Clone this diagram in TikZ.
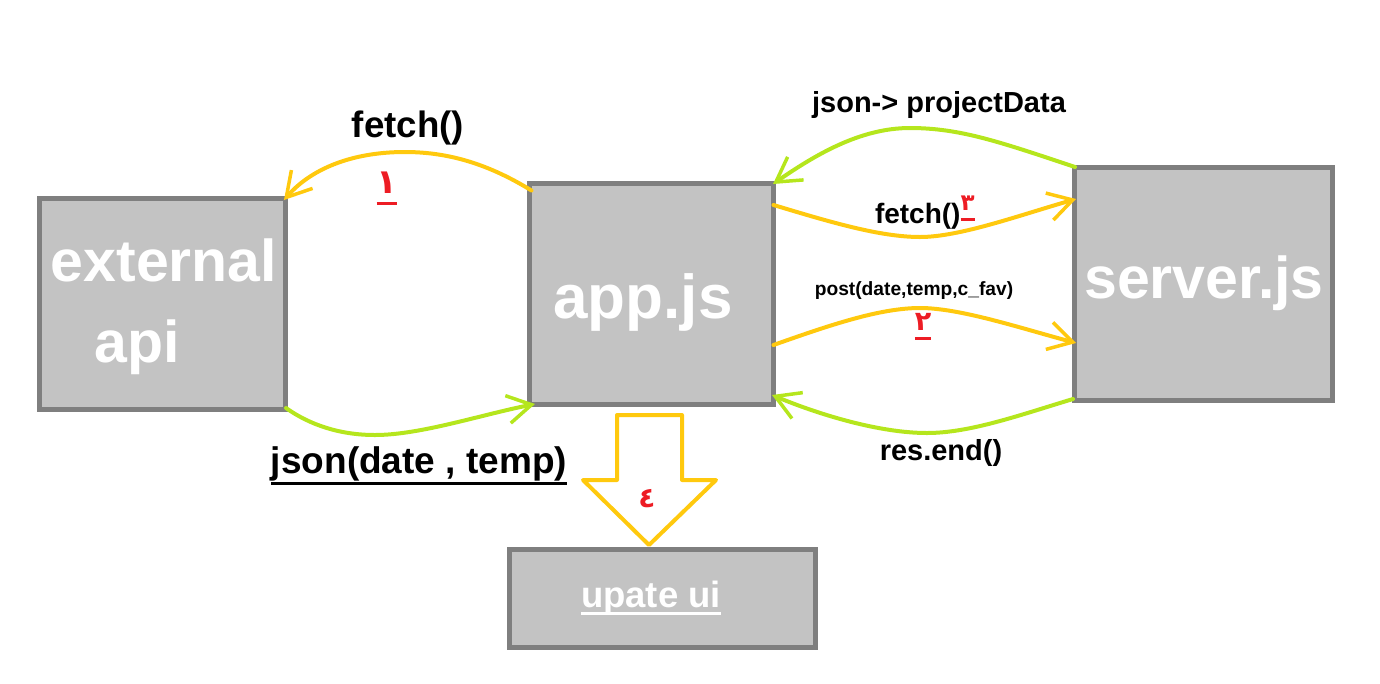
\documentclass[tikz,border=0pt]{standalone}
\usepackage{fontspec}
\setmainfont{Liberation Sans}
\newfontfamily\arfont[Script=Arabic]{DejaVu Sans}
\TeXXeTstate=1
\usetikzlibrary{arrows.meta,calc}
\definecolor{boxfill}{HTML}{C3C3C3}
\definecolor{boxline}{HTML}{7F7F7F}
\definecolor{gold}{HTML}{FFC90E}
\definecolor{lime}{HTML}{B5E61D}
\definecolor{numred}{HTML}{ED1C24}
% underline: #1 = depth of rule bottom below baseline, #2 = rule thickness
\newcommand\ulx[3]{\leavevmode\setbox0\hbox{#3}\rlap{\rule[-#1]{\wd0}{#2}}\box0}
\newcommand\fs[1]{\fontsize{#1}{#1}\selectfont\bfseries}
\newcommand\arnum[1]{{\arfont\beginR #1\endR}}
\tikzset{
  box/.style={draw=boxline, fill=boxfill, line width=5pt, inner sep=0pt, outer sep=0pt},
  lab/.style={inner sep=0pt, outer sep=0pt, anchor=base},
  wlab/.style={lab, text=white},
  num/.style={lab, text=numred},
  conn/.style={line width=4pt, line cap=round, -{Straight Barb[length=24pt,width=28pt,line width=3.5pt]}},
  yconn/.style={conn, draw=gold},
  gconn/.style={conn, draw=lime},
}
\begin{document}
\begin{tikzpicture}[x=1pt,y=-1pt]
\useasboundingbox (0,0) rectangle (1380,683);
% boxes
\node[box, minimum width=246pt, minimum height=211pt] (ext) at (162.5,304) {};
\node[box, minimum width=244pt, minimum height=221pt] (app) at (651.5,294) {};
\node[box, minimum width=258pt, minimum height=233pt] (srv) at (1203.5,284) {};
\node[box, minimum width=306pt, minimum height=98pt] (ui) at (662.5,598.5) {};
% box labels
\node[wlab, font={\fs{59}}] (extT1) at (164,281) {external};
\node[wlab, font={\fs{59}}] (extT2) at (137,362) {api};
\node[wlab, font={\fs{62}}] (appT) at (643,318) {app.js};
\node[wlab, font={\fs{59}}] (srvT) at (1204,298) {server.js};
\node[wlab, font={\fs{36.5}}] (uiT) at (651,607) {\ulx{8pt}{3pt}{upate ui}};
% connector end points
\coordinate (c1s) at ($(app.north west)+(2,7)$);
\coordinate (c1e) at ($(ext.north east)+(-1.5,1.5)$);
\coordinate (c2s) at ($(ext.south east)+(0.5,-1.5)$);
\coordinate (c2e) at ($(app.south west)+(5.5,-0.5)$);
\coordinate (c3s) at ($(srv.north west)+(0.5,-0.5)$);
\coordinate (c3e) at ($(app.north east)+(-0.5,0.5)$);
\coordinate (c4s) at ($(app.north east)+(0,21.5)$);
\coordinate (c4e) at ($(srv.north west)+(1.5,31.5)$);
\coordinate (c5s) at ($(app.north east)+(0,161.5)$);
\coordinate (c5e) at ($(srv.north west)+(1.5,175.5)$);
\coordinate (c6s) at ($(srv.south west)+(-1.5,-1.5)$);
\coordinate (c6e) at ($(app.south east)+(-1.5,-9.5)$);
% connectors
\draw[yconn] (c1s) .. controls (490,165) and (450,152) .. (405,152) .. controls (350,152) and (310,170) .. (c1e);
\draw[gconn] (c2s) .. controls (310,425) and (340,435) .. (375,435) .. controls (420,435) and (480,415) .. (c2e);
\draw[gconn] (c3s) .. controls (1000,142) and (960,128) .. (910,128) .. controls (860,128) and (815,155) .. (c3e);
\draw[yconn] (c4s) .. controls (830,222) and (880,237) .. (920,237) .. controls (960,237) and (1020,215) .. (c4e);
\draw[yconn] (c5s) .. controls (830,325) and (880,308) .. (920,308) .. controls (960,308) and (1020,328) .. (c5e);
\draw[gconn] (c6s) .. controls (1020,415) and (970,433) .. (927,433) .. controls (880,433) and (820,415) .. (c6e);
% block arrow app -> ui
\draw[gold, line width=4pt, fill=white, line join=round]
  (617,415) -- (682,415) -- (682,480) -- (716,480) -- (649,545) -- (583,480) -- (617,480) -- cycle;
% connector labels
\node[lab, font={\fs{36.7}}] (l1) at (408,137) {fetch()};
\node[lab, font={\fs{37}}] (l2) at (419,473) {\ulx{12pt}{3pt}{json(date , temp)}};
\node[lab, font={\fs{29}}] (l3) at (939,112) {json-> projectData};
\node[lab, anchor=base west, font={\fs{28}}] (l4) at (875,223) {fetch()\raisebox{13pt}{\color{numred}\fs{23}\ulx{11pt}{3.5pt}{\arnum{٣}}}};
\node[lab, font={\fs{19.2}}] (l5) at (914,295) {post(date,temp,c\_fav)};
\node[lab, font={\fs{29}}] (l6) at (941,460) {res.end()};
% red step numbers
\node[num, font={\fs{34}}] (n1) at (387,193) {\ulx{12pt}{3.5pt}{\arnum{١}}};
\node[num, font={\fs{27}}] (n2) at (923,330) {\ulx{10pt}{3.5pt}{\arnum{٢}}};
\node[num, font={\fs{28}}] (n4) at (647,507) {\arnum{٤}};
\end{tikzpicture}
\end{document}
